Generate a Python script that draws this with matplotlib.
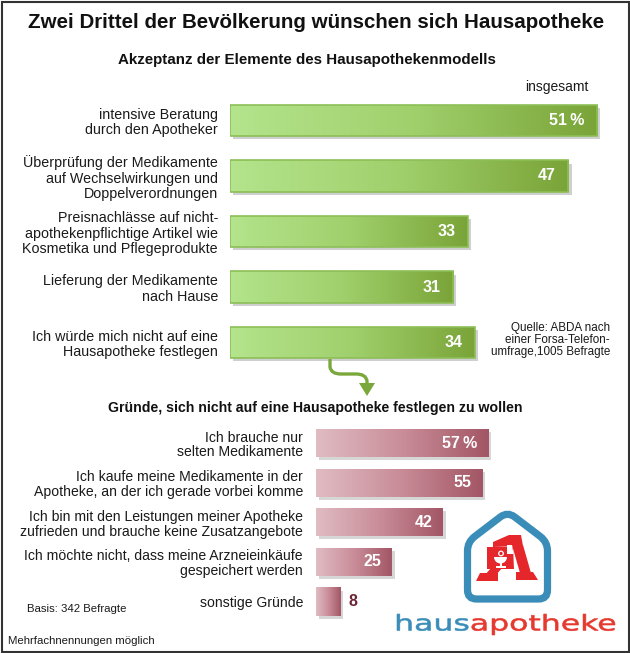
import numpy as np
import matplotlib
matplotlib.use("Agg")
import matplotlib.pyplot as plt
from matplotlib.colors import LinearSegmentedColormap
from matplotlib.transforms import Affine2D
from matplotlib.patches import Polygon, Rectangle, PathPatch, Wedge, Circle
from matplotlib.path import Path
from matplotlib.textpath import TextPath
from matplotlib.font_manager import FontProperties

plt.rcParams['font.family'] = ['Liberation Sans', 'DejaVu Sans']

# Data
akzeptanz_labels = [
    "intensive Beratung\ndurch den Apotheker",
    "Überprüfung der Medikamente\nauf Wechselwirkungen und\nDoppelverordnungen",
    "Preisnachlässe auf nicht-\napothekenpflichtige Artikel wie\nKosmetika und Pflegeprodukte",
    "Lieferung der Medikamente\nnach Hause",
    "Ich würde mich nicht auf eine\nHausapotheke festlegen",
]
akzeptanz_values = [51, 47, 33, 31, 34]

gruende_labels = [
    "Ich brauche nur\nselten Medikamente",
    "Ich kaufe meine Medikamente in der\nApotheke, an der ich gerade vorbei komme",
    "Ich bin mit den Leistungen meiner Apotheke\nzufrieden und brauche keine Zusatzangebote",
    "Ich möchte nicht, dass meine Arzneieinkäufe\ngespeichert werden",
    "sonstige Gründe",
]
gruende_values = [57, 55, 42, 25, 8]

W, H = 630, 653
fig = plt.figure(figsize=(W / 100, H / 100), dpi=100)
# pixel transform (origin top-left)
pix = Affine2D().scale(1 / W, -1 / H).translate(0, 1) + fig.transFigure


def px_axes(left, top, width, height):
    return fig.add_axes([left / W, 1 - (top + height) / H, width / W, height / H])


def gradient_bars(ax, values, height, cmap, edge, shadow, dx, dy):
    y = np.arange(len(values))
    ax.barh(y + dy, values, height=height, left=dx, color=shadow, zorder=1)
    bars = ax.barh(y, values, height=height, color='none', edgecolor=edge,
                   linewidth=1.2, zorder=3)
    grad = np.linspace(0, 1, 256).reshape(1, -1)
    for b in bars:
        x0, y0 = b.get_x(), b.get_y()
        im = ax.imshow(grad, extent=(x0, x0 + b.get_width(), y0 + b.get_height(), y0),
                       aspect='auto', cmap=cmap, zorder=2, interpolation='bicubic')
        im.set_clip_path(b)
    return bars


def style_axes(ax, labels, xmax, n, pad, fs, ls):
    ax.set_xlim(0, xmax)
    ax.set_ylim(n - 0.5, -0.5)
    ax.set_yticks(np.arange(n), labels)
    ax.tick_params(axis='y', length=0, pad=pad, labelsize=fs, labelcolor='#1a1a1a')
    ax.set_xticks([])
    for s in ax.spines.values():
        s.set_visible(False)
    ax.patch.set_alpha(0)
    for t in ax.get_yticklabels():
        t.set_linespacing(ls)


green = LinearSegmentedColormap.from_list('g', ['#b4e48c', '#a0d06c', '#7aa438'])
rose = LinearSegmentedColormap.from_list('r', ['#e0bcc3', '#c98d99', '#a35665'])

# Top chart: 7.2 px per percent
ax1 = px_axes(230, 92.75, 400, 277.5)
gradient_bars(ax1, akzeptanz_values, 0.56, green, '#8cbf56', '#cfcfcf', 0.45, 0.06)
style_axes(ax1, akzeptanz_labels, 400 / 7.2, len(akzeptanz_values), 8.6, 10.3, 1.12)
for i, v in enumerate(akzeptanz_values):
    txt = f"{v}\u2009%" if i == 0 else str(v)
    ax1.annotate(txt, (v, i), xytext=(-9, 0), textcoords='offset points',
                 ha='right', va='center', color='white', fontsize=11.5,
                 fontweight='bold', zorder=5)

# Bottom chart: 3.02 px per percent
ax2 = px_axes(316, 423.2, 300, 198.1)
gradient_bars(ax2, gruende_values, 0.71, rose, 'none', '#d6d6d6', 1.0, 0.08)
style_axes(ax2, gruende_labels, 300 / 3.02, len(gruende_values), 9.4, 10.1, 1.08)
for i, v in enumerate(gruende_values):
    if v >= 20:
        txt = f"{v}\u2009%" if i == 0 else str(v)
        ax2.annotate(txt, (v, i), xytext=(-7.5, 0), textcoords='offset points',
                     ha='right', va='center', color='white', fontsize=11.5,
                     fontweight='bold', zorder=5)
    else:
        ax2.annotate(str(v), (v, i), xytext=(6, 0), textcoords='offset points',
                     ha='left', va='center', color='#6b2733', fontsize=11.5,
                     fontweight='bold', zorder=5)


# Texts
def ptext(x, y, s, **kw):
    fig.text(x / W, 1 - y / H, s, **kw)


ptext(316, 22, "Zwei Drittel der Bevölkerung wünschen sich Hausapotheke",
      ha='center', va='center', fontsize=14.75, fontweight='bold', color='#111111')
ptext(307, 60, "Akzeptanz der Elemente des Hausapothekenmodells",
      ha='center', va='center', fontsize=10.9, fontweight='bold', color='#111111')
ptext(588, 87, "insgesamt", ha='right', va='center', fontsize=10, color='#1a1a1a')
ptext(610, 340, "Quelle: ABDA nach\neiner Forsa-Telefon-\numfrage,1005 Befragte",
      ha='right', va='center', fontsize=8.4, color='#1a1a1a', linespacing=0.98)
ptext(315.5, 408, "Gründe, sich nicht auf eine Hausapotheke festlegen zu wollen",
      ha='center', va='center', fontsize=10.2, fontweight='bold', color='#111111')
ptext(27, 609, "Basis: 342 Befragte", ha='left', va='center', fontsize=8.2, color='#1a1a1a')
ptext(8, 641, "Mehrfachnennungen möglich", ha='left', va='center', fontsize=8.2,
      color='#1a1a1a')

# Arrow between the charts
arrow_path = Path([(330, 359), (330, 367), (331, 374), (341, 374), (356, 374),
                   (366, 374), (367, 381), (367, 385)],
                  [Path.MOVETO, Path.LINETO, Path.CURVE3, Path.CURVE3, Path.LINETO,
                   Path.CURVE3, Path.CURVE3, Path.LINETO])
fig.add_artist(PathPatch(arrow_path, fill=False, edgecolor='#7aa83c', lw=2.4,
                         transform=pix, capstyle='butt'))
fig.add_artist(Polygon([(359, 383), (375, 383), (367, 396)], closed=True,
                       facecolor='#7aa83c', edgecolor='none', transform=pix))


# Logo: house with rounded corners
def rounded_polygon(pts, r):
    pts = np.asarray(pts, float)
    n = len(pts)
    verts, codes = [], []
    for i in range(n):
        p0, p1, p2 = pts[i - 1], pts[i], pts[(i + 1) % n]
        a = p1 + (p0 - p1) / np.linalg.norm(p0 - p1) * r
        b = p1 + (p2 - p1) / np.linalg.norm(p2 - p1) * r
        verts += [a, p1, b]
        codes += [Path.MOVETO if i == 0 else Path.LINETO, Path.CURVE3, Path.CURVE3]
    verts.append(verts[0])
    codes.append(Path.CLOSEPOLY)
    return Path(verts, codes)


house = rounded_polygon([(467.5, 599), (467.5, 542), (507.5, 511.5), (547.5, 542),
                         (547.5, 599)], 9)
fig.add_artist(PathPatch(house, fill=False, edgecolor='#3a8cb9', lw=5.2,
                         transform=pix))

# Apotheken-A (simplified)
ared = '#e5262a'
a_parts = [
    [(493, 542), (509, 535), (521, 535), (523, 546), (493, 547)],
    [(512, 545), (523, 545), (531, 573), (520, 573)],
    [(516, 572), (533, 572), (538, 580), (516, 580)],
    [(487, 547), (513, 547), (514, 569), (487, 569)],
    [(492, 567), (503, 567), (495, 576), (484, 576)],
    [(480, 573), (498, 573), (498, 581), (476, 581)],
]
for pts in a_parts:
    fig.add_artist(Polygon(pts, closed=True, facecolor=ared, edgecolor='none',
                           transform=pix))
white_parts = [
    Polygon([(507, 545), (512, 545), (513.5, 554), (507, 554)], closed=True),
    Wedge((500.5, 557), 6.5, 0, 180),
    Rectangle((499.5, 562), 2.2, 5),
    Rectangle((495.5, 566), 10, 2),
]
for p in white_parts:
    p.set_facecolor('white')
    p.set_edgecolor('none')
    p.set_transform(pix)
    fig.add_artist(p)
fig.add_artist(Circle((501, 553.5), 2.3, fill=False, edgecolor='white', lw=0.9,
                      transform=pix))

# Logo text, stretched into the box of the original lettering
fp = FontProperties(family='DejaVu Sans')
tp_full = TextPath((0, 0), "hausapotheke", size=1, prop=fp)
tp_haus = TextPath((0, 0), "haus", size=1, prop=fp)
tp_apo = TextPath((0, 0), "apotheke", size=1, prop=fp)
ef = tp_full.get_extents()
adv = ef.x1 - tp_apo.get_extents().x1
sx = 218 / (ef.x1 - ef.x0)
sy = 21 / (ef.y1 - ef.y0)
base = Affine2D().translate(-ef.x0, -ef.y1).scale(sx, -sy).translate(397, 614)
fig.add_artist(PathPatch(tp_haus, facecolor='#3a8cb9', edgecolor='#3a8cb9', lw=0.4,
                         transform=base + pix))
fig.add_artist(PathPatch(tp_apo, facecolor='#e5392f', edgecolor='#e5392f', lw=0.4,
                         transform=Affine2D().translate(adv, 0) + base + pix))

# Frame
fig.add_artist(Rectangle((1.5, 1.5), W - 3, H - 3, fill=False, edgecolor='#333333',
                         lw=1.5, transform=pix))

fig.savefig("out.png", dpi=100)
